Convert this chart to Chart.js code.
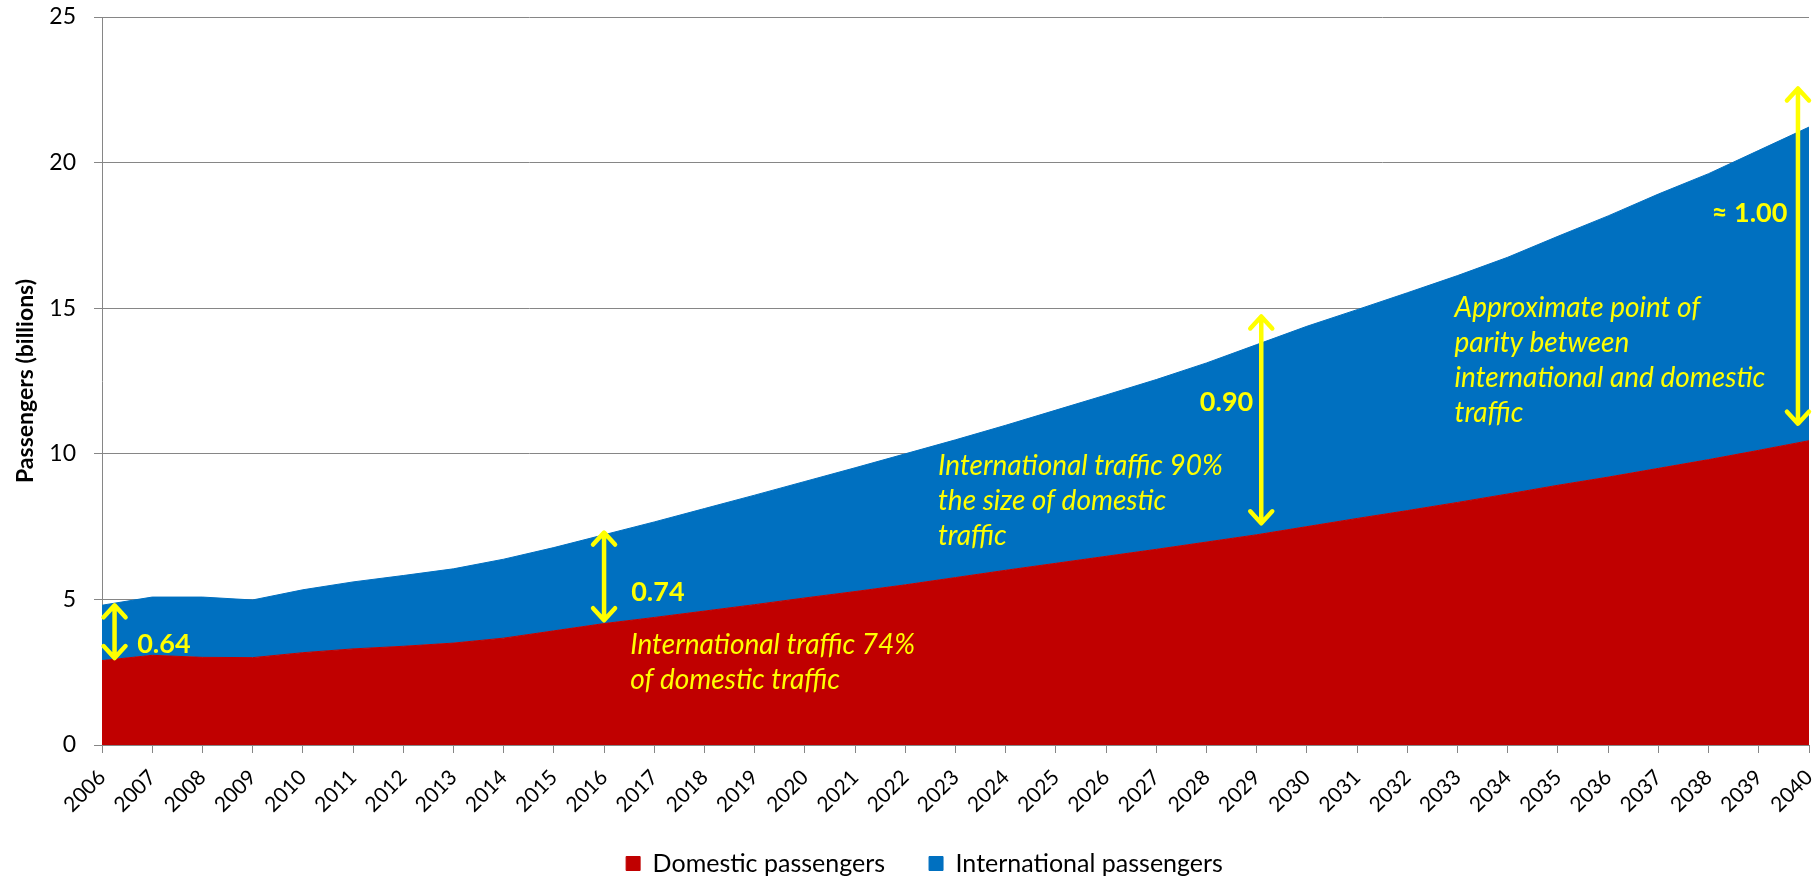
<!DOCTYPE html>
<html>
<head>
<meta charset="utf-8">
<script src="https://cdn.jsdelivr.net/npm/chart.js@4.4.1/dist/chart.umd.min.js"></script>
<style>
    html, body { margin: 0; padding: 0; background: #fff; }
    #wrap { width: 1816px; height: 879px; }
</style>
</head>
<body>
<div id="wrap"><canvas id="trafficChart"></canvas></div>
<script>
const years = ['2006', '2007', '2008', '2009', '2010', '2011', '2012', '2013', '2014', '2015',
    '2016', '2017', '2018', '2019', '2020', '2021', '2022', '2023', '2024', '2025',
    '2026', '2027', '2028', '2029', '2030', '2031', '2032', '2033', '2034', '2035',
    '2036', '2037', '2038', '2039', '2040'];

// billions of passengers
const domestic = [2.90, 3.08, 3.01, 3.00, 3.17, 3.30, 3.39, 3.50, 3.67, 3.92,
    4.17, 4.38, 4.60, 4.82, 5.05, 5.27, 5.50, 5.75, 6.00, 6.24,
    6.48, 6.72, 6.97, 7.22, 7.50, 7.78, 8.05, 8.33, 8.62, 8.92,
    9.20, 9.50, 9.80, 10.12, 10.45];

const international = [1.90, 2.00, 2.07, 1.98, 2.16, 2.30, 2.43, 2.55, 2.71, 2.86,
    3.05, 3.28, 3.52, 3.76, 4.00, 4.25, 4.50, 4.73, 4.98, 5.26,
    5.54, 5.83, 6.15, 6.53, 6.88, 7.17, 7.48, 7.79, 8.13, 8.55,
    8.97, 9.42, 9.82, 10.30, 10.77];

const yMin = 0;
const yMax = 25;
const yStep = 5;

// annotations, in data units (x = index along the years, y = billions)
const arrows = [
    { x: 0.25, from: 2.95, to: 4.83 },
    { x: 10.0, from: 4.25, to: 7.33 },
    { x: 23.09, from: 7.58, to: 14.75 },
    { x: 33.78, from: 11.0, to: 22.58 }
];

const ratioLabels = [
    { text: '0.64', x: 0.7, y: 3.45, align: 'left' },
    { text: '0.74', x: 10.54, y: 5.25, align: 'left' },
    { text: '0.90', x: 22.93, y: 11.78, align: 'right' },
    { text: '\u2248 1.00', x: 33.57, y: 18.25, align: 'right' }
];

const notes = [
    { lines: ['International traffic 74%', 'of domestic traffic'], x: 10.52, y: 3.45 },
    { lines: ['International traffic 90%', 'the size of domestic', 'traffic'], x: 16.65, y: 9.58 },
    { lines: ['Approximate point of', 'parity between', 'international and domestic', 'traffic'], x: 26.94, y: 15.0 }
];

const YELLOW = '#FFFF00';
const PLOT_BOTTOM = 745;
const PAD = { left: 40, right: 7, top: 17, bottom: -7 };

const annotationPlugin = {
    id: 'trafficNotes',
    afterDatasetsDraw(chart) {
        const ctx = chart.ctx;
        const xs = chart.scales.x;
        const ys = chart.scales.y;

        ctx.save();
        ctx.strokeStyle = YELLOW;
        ctx.lineWidth = 4.5;
        ctx.lineCap = 'round';
        ctx.lineJoin = 'round';
        arrows.forEach(a => {
            const px = xs.getPixelForValue(a.x);
            const top = ys.getPixelForValue(a.to);
            const bottom = ys.getPixelForValue(a.from);
            ctx.beginPath();
            ctx.moveTo(px, top + 2);
            ctx.lineTo(px, bottom - 2);
            // heads
            ctx.moveTo(px - 11, top + 13);
            ctx.lineTo(px, top + 1);
            ctx.lineTo(px + 11, top + 13);
            ctx.moveTo(px - 11, bottom - 13);
            ctx.lineTo(px, bottom - 1);
            ctx.lineTo(px + 11, bottom - 13);
            ctx.stroke();
        });

        ctx.fillStyle = YELLOW;
        ctx.textBaseline = 'middle';
        ctx.font = 'bold 27px Lato';
        ratioLabels.forEach(l => {
            ctx.textAlign = l.align;
            ctx.fillText(l.text, xs.getPixelForValue(l.x), ys.getPixelForValue(l.y));
        });

        ctx.font = 'italic 28px Lato';
        ctx.textAlign = 'left';
        notes.forEach(n => {
            const px = xs.getPixelForValue(n.x);
            const py = ys.getPixelForValue(n.y);
            n.lines.forEach((line, i) => {
                ctx.fillText(line, px, py + i * 35);
            });
        });
        ctx.restore();
    }
};

Chart.defaults.font.family = 'Lato';
Chart.defaults.color = '#000';

const ctx = document.getElementById('trafficChart').getContext('2d');

new Chart(ctx, {
    type: 'line',
    data: {
        labels: years,
        datasets: [
            {
                label: 'Domestic passengers',
                data: domestic,
                backgroundColor: '#C00000',
                borderColor: '#C00000',
                borderWidth: 1,
                pointRadius: 0,
                fill: 'origin',
                tension: 0
            },
            {
                label: 'International passengers',
                data: international,
                backgroundColor: '#0070C0',
                borderColor: '#0070C0',
                borderWidth: 1,
                pointRadius: 0,
                fill: '-1',
                tension: 0
            }
        ]
    },
    options: {
        responsive: true,
        maintainAspectRatio: false,
        animation: false,
        devicePixelRatio: 1,
        layout: {
            padding: PAD
        },
        plugins: {
            legend: {
                position: 'bottom',
                labels: {
                    boxWidth: 14,
                    boxHeight: 14,
                    padding: 44,
                    color: '#000',
                    font: { size: 25 }
                }
            },
            tooltip: { enabled: false }
        },
        scales: {
            x: {
                offset: false,
                grid: {
                    drawOnChartArea: false,
                    drawTicks: true,
                    tickLength: 8,
                    color: '#868686'
                },
                border: { color: '#868686' },
                ticks: {
                    autoSkip: false,
                    maxRotation: 45,
                    minRotation: 45,
                    padding: 12,
                    color: '#000',
                    font: { size: 21 }
                },
                afterFit: (scale) => {
                    scale.height = 879 - PAD.bottom - PLOT_BOTTOM - scale.chart.legend.height;
                    scale.paddingLeft = 0;
                    scale.paddingRight = 0;
                    // the rotated year labels run down past the axis box, don't clip them
                    scale._computeLabelArea = () => null;
                }
            },
            y: {
                stacked: true,
                min: yMin,
                max: yMax,
                grid: {
                    color: '#868686',
                    tickLength: 8
                },
                border: { color: '#868686' },
                ticks: {
                    stepSize: yStep,
                    padding: 18,
                    color: '#000',
                    font: { size: 23 }
                },
                title: {
                    display: true,
                    text: 'Passengers (billions)',
                    color: '#000',
                    font: { size: 23, weight: 'bold' },
                    padding: { top: 12 - PAD.left, bottom: 0 }
                },
                afterFit: (scale) => {
                    scale.width = 102 - PAD.left;
                    scale.paddingTop = 0;
                    scale.paddingBottom = 0;
                }
            }
        }
    },
    plugins: [annotationPlugin]
});
</script>
</body>
</html>
